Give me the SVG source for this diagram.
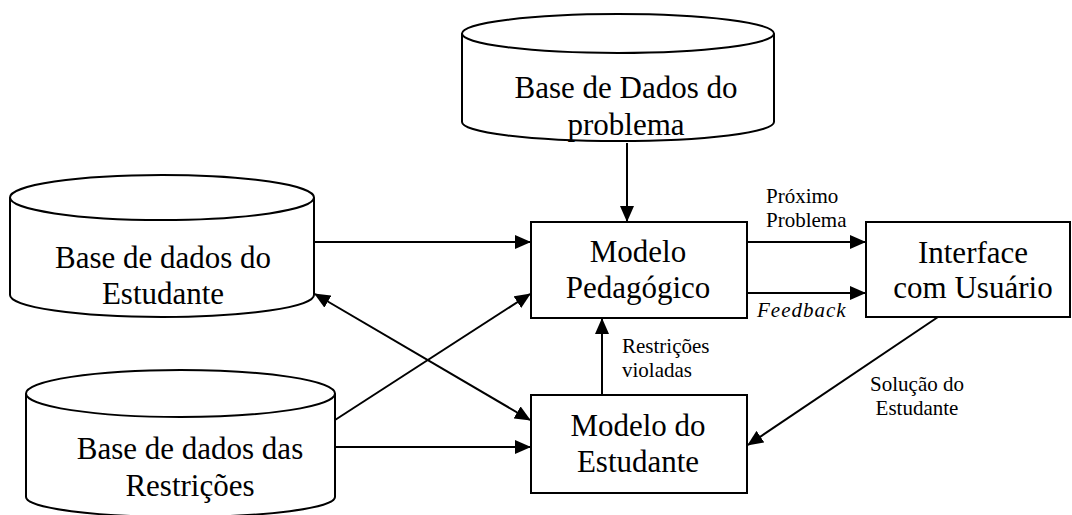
<svg xmlns="http://www.w3.org/2000/svg" width="1072" height="515" viewBox="0 0 1072 515">
  <style>
    .shape { fill: #fff; stroke: #000; stroke-width: 2; }
    .big { font-family: "Liberation Serif", "Times New Roman", serif; font-size: 31px; fill: #000; text-anchor: middle; }
    .small { font-family: "Liberation Serif", "Times New Roman", serif; font-size: 21px; fill: #000; }
    .edge { fill: none; stroke: #000; stroke-width: 2; }
  </style>
  <defs>
    <marker id="arrow" markerUnits="userSpaceOnUse" markerWidth="16" markerHeight="14" refX="15" refY="7" orient="auto-start-reverse" viewBox="0 0 16 14">
      <path d="M0,0 L16,7 L0,14 z" fill="#000"/>
    </marker>
  </defs>
  <rect width="1072" height="515" fill="#fff"/>

  <!-- database: problem data -->
  <g id="db-problema">
    <path class="shape" d="M462,33.5 L462,122 A156,19 0 0 0 774,122 L774,33.5"/>
    <ellipse class="shape" cx="618" cy="33.5" rx="156" ry="19.5"/>
    <text class="big" x="626" y="98">Base de Dados do</text>
    <text class="big" x="626" y="135">problema</text>
  </g>

  <!-- database: student data -->
  <g id="db-estudante">
    <path class="shape" d="M10,197.5 L10,295 A152,22 0 0 0 314,295 L314,197.5"/>
    <ellipse class="shape" cx="162" cy="197.5" rx="152" ry="22.5"/>
    <text class="big" x="163" y="268">Base de dados do</text>
    <text class="big" x="163" y="304">Estudante</text>
  </g>

  <!-- database: constraints -->
  <g id="db-restricoes">
    <path class="shape" d="M26,393.5 L26,497 A154.5,20 0 0 0 335,497 L335,393.5"/>
    <ellipse class="shape" cx="180.5" cy="393.5" rx="154.5" ry="23.5"/>
    <text class="big" x="190" y="459">Base de dados das</text>
    <text class="big" x="190" y="496">Restrições</text>
  </g>

  <!-- pedagogical model -->
  <g id="modelo-pedagogico">
    <rect class="shape" x="531" y="222" width="216" height="96"/>
    <text class="big" x="638" y="262">Modelo</text>
    <text class="big" x="638" y="298">Pedagógico</text>
  </g>

  <!-- user interface -->
  <g id="interface">
    <rect class="shape" x="866" y="222" width="204" height="95"/>
    <text class="big" x="973" y="263">Interface</text>
    <text class="big" x="973" y="298">com Usuário</text>
  </g>

  <!-- student model -->
  <g id="modelo-estudante">
    <rect class="shape" x="531" y="395" width="216" height="98"/>
    <text class="big" x="638" y="436">Modelo do</text>
    <text class="big" x="638" y="472">Estudante</text>
  </g>

  <!-- connectors -->
  <g id="connectors">
    <line class="edge" x1="627" y1="143" x2="627" y2="221" marker-end="url(#arrow)"/>
    <line class="edge" x1="314" y1="242" x2="530" y2="242" marker-end="url(#arrow)"/>
    <line class="edge" x1="747" y1="242" x2="865" y2="242" marker-end="url(#arrow)"/>
    <line class="edge" x1="747" y1="293" x2="865" y2="293" marker-end="url(#arrow)"/>
    <line class="edge" x1="315" y1="294" x2="530" y2="420" marker-start="url(#arrow)" marker-end="url(#arrow)"/>
    <line class="edge" x1="335" y1="420" x2="530" y2="294" marker-end="url(#arrow)"/>
    <line class="edge" x1="335" y1="447" x2="530" y2="447" marker-end="url(#arrow)"/>
    <line class="edge" x1="602" y1="395" x2="602" y2="319" marker-end="url(#arrow)"/>
    <line class="edge" x1="938" y1="317" x2="748" y2="445" marker-end="url(#arrow)"/>
  </g>

  <!-- connector labels -->
  <g id="labels">
    <text class="small" x="766" y="203">Próximo</text>
    <text class="small" x="766" y="227">Problema</text>
    <text class="small" x="757" y="317" font-style="italic" letter-spacing="1">Feedback</text>
    <text class="small" x="622" y="353">Restrições</text>
    <text class="small" x="622" y="377">violadas</text>
    <text class="small" x="917" y="391" text-anchor="middle">Solução do</text>
    <text class="small" x="917" y="415" text-anchor="middle">Estudante</text>
  </g>
</svg>
